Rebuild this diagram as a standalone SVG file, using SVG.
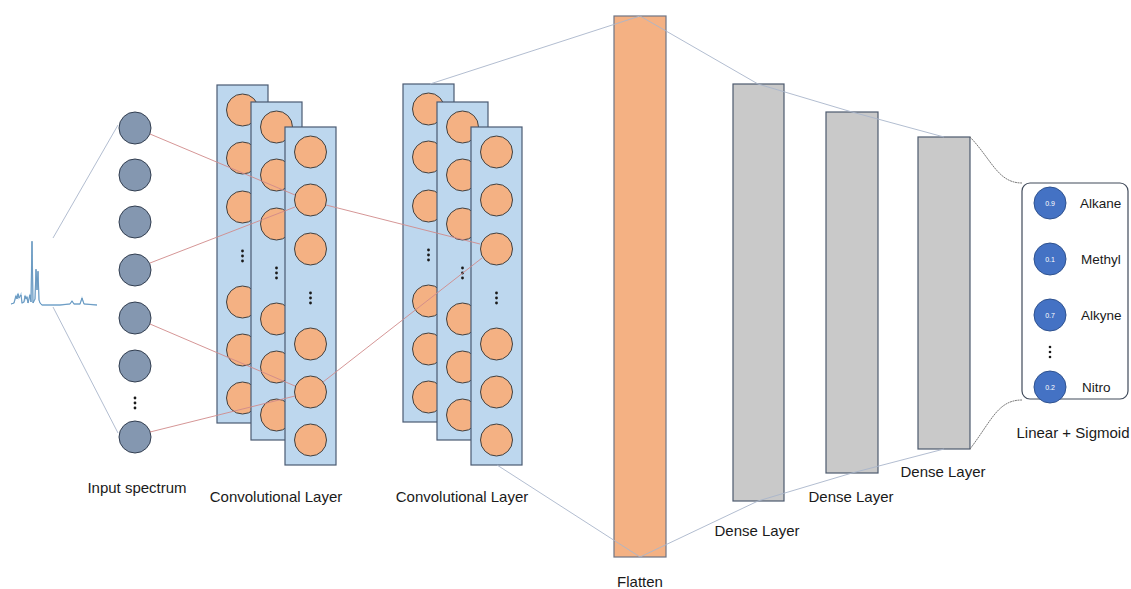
<svg xmlns="http://www.w3.org/2000/svg" xmlns:xlink="http://www.w3.org/1999/xlink" width="1131" height="589" viewBox="0 0 1131 589">
<style>
.lbl{font-family:"Liberation Sans",Arial,sans-serif;font-size:15px;fill:#1a1a1a;text-anchor:middle}
.olbl{font-family:"Liberation Sans",Arial,sans-serif;font-size:13.5px;fill:#1a1a1a}
.val{font-family:"Liberation Sans",Arial,sans-serif;font-size:7px;fill:#ffffff;text-anchor:middle}
.inc{fill:#8497B0;stroke:#323E50;stroke-width:1}
.oc{fill:#F4B183;stroke:#404040;stroke-width:1}
.col{fill:#BDD7EE;stroke:#4A5A72;stroke-width:1.2}
.dense{fill:#C9C9C9;stroke:#4D5A6E;stroke-width:1.2}
.flat{fill:#F4B183;stroke:#6E7484;stroke-width:1.2}
.outc{fill:#4472C4;stroke:#2F528F;stroke-width:1}
.red{stroke:#D08A8A;stroke-width:0.9;fill:none}
.gb{stroke:#A9B6CB;stroke-width:0.9;fill:none}
.dk{stroke:#6B6B6B;stroke-width:0.9;fill:none;stroke-dasharray:2 0.6}
.dot{fill:#1a1a1a}
</style>
<defs>
<g id="column">
<rect class="col" x="0" y="0" width="51" height="338"/>
<circle class="oc" cx="25.5" cy="25" r="16"/>
<circle class="oc" cx="25.5" cy="73" r="16"/>
<circle class="oc" cx="25.5" cy="122" r="16"/>
<circle class="dot" cx="25.5" cy="166" r="1.4"/>
<circle class="dot" cx="25.5" cy="171" r="1.4"/>
<circle class="dot" cx="25.5" cy="176" r="1.4"/>
<circle class="oc" cx="25.5" cy="217" r="16"/>
<circle class="oc" cx="25.5" cy="265" r="16"/>
<circle class="oc" cx="25.5" cy="313" r="16"/>
</g>
</defs>

<g id="input-spectrum">
<polyline fill="none" stroke="#A8CBE6" stroke-width="1.3" points="11,304 14,303 16,295 17,299 18,293 19,298 21,294 22,303 24,302 25,295 26,299 27,296 28,303 30,294 31,302 32,242 33,303 35,299 36,270 37,290 38,272 39,300 40,303 42,305 50,305 60,305 70,304 72,301 74,304 80,304 82,298 84,304 97,305"/>
<polyline fill="none" stroke="#5B8DB8" stroke-width="0.8" points="11,304 14,303 16,296 17,299 18,294 19,298 21,295 22,303 24,302 25,296 26,299 27,297 28,303 30,295 31,302 32,241 33,303 35,299 36,269 37,290 38,271 39,300 40,303 42,305 50,305 60,305 70,304 72,301 74,304 80,304 82,298 84,304 97,305"/>
</g>

<g id="input-layer">
<circle class="inc" cx="135" cy="128" r="16"/>
<circle class="inc" cx="135" cy="175" r="16"/>
<circle class="inc" cx="135" cy="222" r="16"/>
<circle class="inc" cx="135" cy="270" r="16"/>
<circle class="inc" cx="135" cy="318" r="16"/>
<circle class="inc" cx="135" cy="366" r="16"/>
<circle class="dot" cx="135" cy="398" r="1.4"/>
<circle class="dot" cx="135" cy="403" r="1.4"/>
<circle class="dot" cx="135" cy="408" r="1.4"/>
<circle class="inc" cx="135" cy="437" r="16"/>
<text class="lbl" x="137" y="493">Input spectrum</text>
</g>

<g id="conv-layer-1">
<use xlink:href="#column" href="#column" x="217" y="85"/>
<use xlink:href="#column" href="#column" x="251" y="102"/>
<use xlink:href="#column" href="#column" x="285" y="127"/>
<text class="lbl" x="276" y="502">Convolutional Layer</text>
</g>

<g id="conv-layer-2">
<use xlink:href="#column" href="#column" x="403" y="84"/>
<use xlink:href="#column" href="#column" x="437" y="102"/>
<use xlink:href="#column" href="#column" x="471" y="127"/>
<text class="lbl" x="462" y="502">Convolutional Layer</text>
</g>

<g id="flatten">
<rect class="flat" x="614" y="16" width="52" height="541"/>
<text class="lbl" x="640" y="587">Flatten</text>
</g>

<g id="dense-1">
<rect class="dense" x="733" y="84" width="51" height="417"/>
<text class="lbl" x="757" y="536">Dense Layer</text>
</g>

<g id="dense-2">
<rect class="dense" x="826" y="112" width="52" height="361"/>
<text class="lbl" x="851" y="502">Dense Layer</text>
</g>

<g id="dense-3">
<rect class="dense" x="918" y="137" width="52" height="312"/>
<text class="lbl" x="943" y="477">Dense Layer</text>
</g>

<g id="output">
<rect x="1022" y="183" width="106" height="216" rx="8" fill="#ffffff" stroke="#404A5A" stroke-width="1.2"/>
<circle class="outc" cx="1050" cy="203" r="16"/>
<text class="val" x="1050" y="205.5">0.9</text>
<text class="olbl" x="1080" y="208">Alkane</text>
<circle class="outc" cx="1050" cy="259" r="16"/>
<text class="val" x="1050" y="261.5">0.1</text>
<text class="olbl" x="1081" y="264">Methyl</text>
<circle class="outc" cx="1050" cy="315" r="16"/>
<text class="val" x="1050" y="317.5">0.7</text>
<text class="olbl" x="1081" y="320">Alkyne</text>
<circle class="dot" cx="1050" cy="347" r="1.3"/>
<circle class="dot" cx="1050" cy="352" r="1.3"/>
<circle class="dot" cx="1050" cy="357" r="1.3"/>
<circle class="outc" cx="1050" cy="387" r="16"/>
<text class="val" x="1050" y="389.5">0.2</text>
<text class="olbl" x="1082" y="392">Nitro</text>
<text class="lbl" x="1073" y="438">Linear + Sigmoid</text>
</g>

<g id="connectors">
<line class="gb" x1="53" y1="238" x2="118" y2="125"/>
<line class="gb" x1="53" y1="307" x2="118" y2="433"/>
<line class="red" x1="150" y1="134" x2="295" y2="195"/>
<line class="red" x1="150" y1="263" x2="295" y2="207"/>
<line class="red" x1="150" y1="324" x2="295" y2="386"/>
<line class="red" x1="150" y1="432" x2="295" y2="396"/>
<line class="red" x1="326" y1="205" x2="480" y2="244"/>
<line class="red" x1="323" y1="382" x2="482" y2="258"/>
<polyline class="gb" points="430,84 640,16 758,84 852,112 944,137"/>
<polyline class="gb" points="497,465 640,557 758,501 852,473 944,449"/>
<path class="dk" d="M970,137 C992,160 998,183 1022,183"/>
<path class="dk" d="M970,449 C992,420 998,400 1022,400"/>
</g>
</svg>
